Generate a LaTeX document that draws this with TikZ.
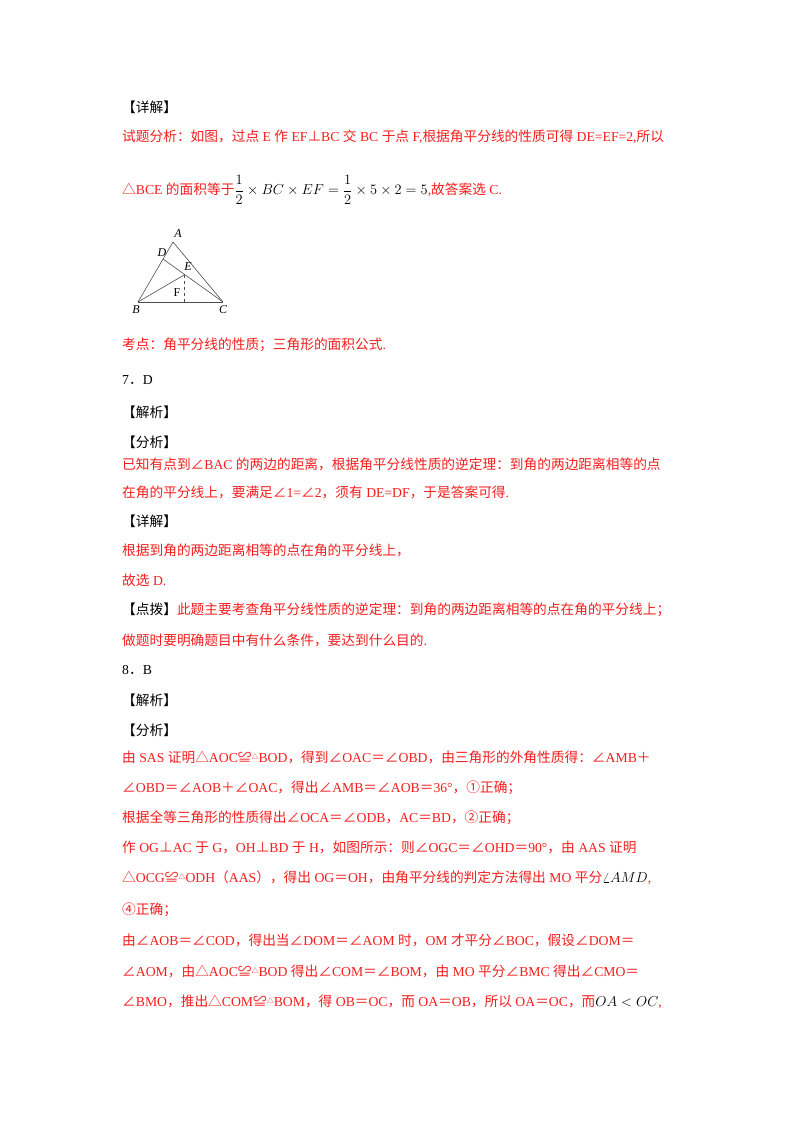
\documentclass[tikz,border=0pt]{standalone}
\usepackage{fontspec}
\setmainfont{Liberation Serif}
\newfontfamily\cjk{Noto Sans CJK SC}
\newfontfamily\ser{Liberation Serif}
\XeTeXinterchartokenstate=1
\newcount\cc
\cc="3000 \loop \XeTeXcharclass\cc=1 \advance\cc 1 \ifnum\cc<"A000 \repeat
\cc="FF00 \loop \XeTeXcharclass\cc=1 \advance\cc 1 \ifnum\cc<"FFF0 \repeat
\cc="2460 \loop \XeTeXcharclass\cc=1 \advance\cc 1 \ifnum\cc<"2500 \repeat
\cc="2200 \loop \XeTeXcharclass\cc=1 \advance\cc 1 \ifnum\cc<"2300 \repeat
\XeTeXcharclass`△=1
\XeTeXinterchartoks 0 1 = {\cjk}
\XeTeXinterchartoks 4095 1 = {\cjk}
\XeTeXinterchartoks 1 0 = {\ser}
\XeTeXinterchartoks 1 4095 = {\ser}
\definecolor{txtred}{RGB}{245,30,30}
\newcommand{\tri}{\raisebox{.45ex}{\fontsize{7}{7}\selectfont △}}
\begin{document}
\begin{tikzpicture}[x=1pt,y=-1pt,
  ln/.style={anchor=west,inner sep=0pt,font=\fontsize{13.7}{15}\selectfont,text=txtred},
  hd/.style={ln,text=black},
  lb/.style={font=\ser\itshape\fontsize{12}{12}\selectfont,inner sep=0pt},
  seg/.style={line width=0.6pt,gray!60!black}]
\useasboundingbox (0,0) rectangle (800,1132);
\fill[white] (0,0) rectangle (800,1132);
\node[hd] (h1) at (122,107) {【详解】};
\node[ln] (l1) at (122,137) {试题分析：如图，过点 E 作 EF⊥BC 交 BC 于点 F,根据角平分线的性质可得 DE=EF=2,所以};
\node[ln] (l2) at (122,190) {△BCE 的面积等于{\color{black}$\displaystyle\frac12\times BC\times EF=\frac12\times5\times2=5$},故答案选 C.};
% triangle
\coordinate (A) at (173,242);
\coordinate (B) at (138,302);
\coordinate (C) at (223,302);
\coordinate (D) at (163,259);
\coordinate (E) at (184,275);
\coordinate (F) at (184,302);
\draw[seg] (A) -- (B);
\draw[seg] (A) -- (C);
\draw[seg,line width=1pt] (B) -- (C);
\draw[seg] (B) -- (E);
\draw[seg] (D) -- (C);
\draw[seg,dashed] (E) -- (F);
\node[lb] (tA) at (178,234) {A};
\node[lb] (tD) at (162,253) {D};
\node[lb] (tE) at (188,267) {E};
\node[lb,font=\ser\fontsize{12}{12}\selectfont] (tF) at (177,293) {F};
\node[lb] (tB) at (136,310) {B};
\node[lb] (tC) at (223,310) {C};
\node[ln] (l3) at (122,345) {考点：角平分线的性质；三角形的面积公式.};
\node[hd] (l4) at (122,380) {7．D};
\node[hd] (l5) at (122,412) {【解析】};
\node[hd] (l6) at (122,442) {【分析】};
\node[ln] (l7) at (122,464) {已知有点到∠BAC 的两边的距离，根据角平分线性质的逆定理：到角的两边距离相等的点};
\node[ln] (l8) at (122,492) {在角的平分线上，要满足∠1=∠2，须有 DE=DF，于是答案可得.};
\node[hd] (l9) at (122,521) {【详解】};
\node[ln] (l10) at (122,550) {根据到角的两边距离相等的点在角的平分线上，};
\node[ln] (l11) at (122,580) {故选 D.};
\node[ln] (l12) at (122,610) {{\color{black}【点拨】}此题主要考查角平分线性质的逆定理：到角的两边距离相等的点在角的平分线上；};
\node[ln] (l13) at (122,640) {做题时要明确题目中有什么条件，要达到什么目的.};
\node[hd] (l14) at (122,670) {8．B};
\node[hd] (l15) at (122,700) {【解析】};
\node[hd] (l16) at (122,730) {【分析】};
\node[ln] (l17) at (122,757) {由 SAS 证明△AOC≌\tri BOD，得到∠OAC＝∠OBD，由三角形的外角性质得：∠AMB＋};
\node[ln] (l18) at (122,788) {∠OBD＝∠AOB＋∠OAC，得出∠AMB＝∠AOB＝36°，①正确；};
\node[ln] (l19) at (122,818) {根据全等三角形的性质得出∠OCA＝∠ODB，AC＝BD，②正确；};
\node[ln] (l20) at (122,847) {作 OG⊥AC 于 G，OH⊥BD 于 H，如图所示：则∠OGC＝∠OHD＝90°，由 AAS 证明};
\node[ln] (l21) at (122,878) {△OCG≌\tri ODH（AAS），得出 OG＝OH，由角平分线的判定方法得出 MO 平分{\color{black}$\angle AMD$},};
\node[ln] (l22) at (122,910) {④正确；};
\node[ln] (l23) at (122,940) {由∠AOB＝∠COD，得出当∠DOM＝∠AOM 时，OM 才平分∠BOC，假设∠DOM＝};
\node[ln] (l24) at (122,971) {∠AOM，由△AOC≌\tri BOD 得出∠COM＝∠BOM，由 MO 平分∠BMC 得出∠CMO＝};
\node[ln] (l25) at (122,1002) {∠BMO，推出△COM≌\tri BOM，得 OB＝OC，而 OA＝OB，所以 OA＝OC，而{\color{black}$OA<OC$},};
\end{tikzpicture}
\end{document}
